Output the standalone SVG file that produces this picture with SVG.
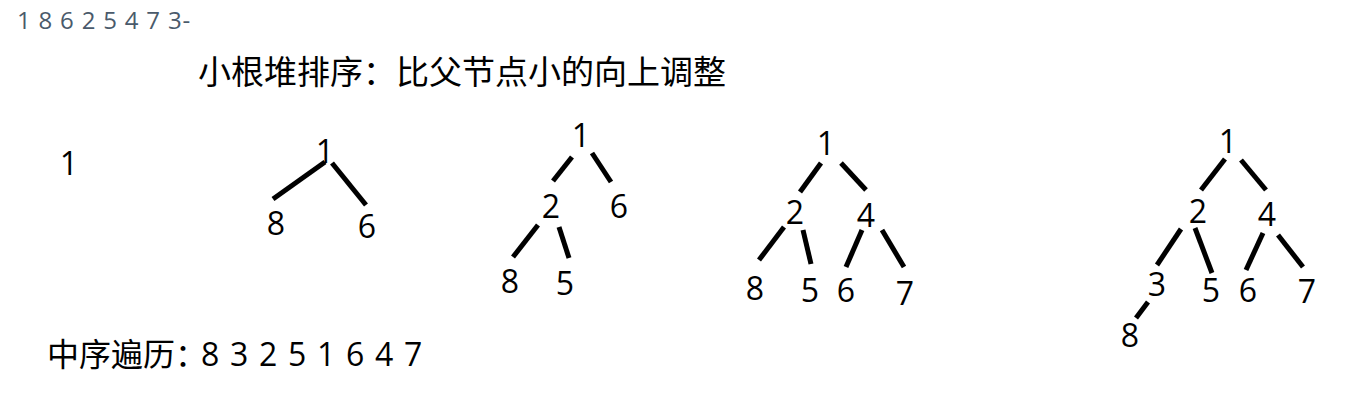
<svg xmlns="http://www.w3.org/2000/svg" width="1366" height="410" viewBox="0 0 1366 410">
<style>
.t{font-family:"Open Sans","Noto Sans CJK SC",sans-serif;fill:#000}
.cjk{font-family:"Noto Sans CJK SC","Noto Sans",sans-serif;fill:#000}
.n{font-family:"Open Sans","Noto Sans",sans-serif;font-size:32px;fill:#000;text-anchor:middle}
.e{stroke:#000;stroke-width:5;stroke-linecap:butt;fill:none}
</style>
<rect width="1366" height="410" fill="#fff"/>
<text id="seq" x="17" y="29" style="font-family:'Open Sans','Noto Sans',sans-serif;font-size:24px;fill:#4a5a6b;letter-spacing:0.8px">1 8 6 2 5 4 7 3-</text>
<text id="title" class="cjk" x="198" y="84" font-size="33">小根堆排序：比父节点小的向上调整</text>
<text id="inorder" class="cjk" x="47" y="366" font-size="32">中序遍历：<tspan x="201" style="font-family:'Open Sans','Noto Sans',sans-serif;letter-spacing:1.2px">8 3 2 5 1 6 4 7</tspan></text>

<g id="connectors">
  <!-- tree 2 -->
  <line class="e" x1="325" y1="162" x2="273" y2="199"/>
  <line class="e" x1="332" y1="163" x2="366" y2="205"/>
  <!-- tree 3 -->
  <line class="e" x1="572" y1="157" x2="553" y2="181"/>
  <line class="e" x1="592" y1="153" x2="611" y2="182"/>
  <line class="e" x1="538" y1="225" x2="513" y2="257"/>
  <line class="e" x1="559" y1="227" x2="569" y2="258"/>
  <!-- tree 4 -->
  <line class="e" x1="821" y1="163" x2="800" y2="192"/>
  <line class="e" x1="841" y1="163" x2="866" y2="190"/>
  <line class="e" x1="784" y1="227" x2="759" y2="260"/>
  <line class="e" x1="803" y1="230" x2="811" y2="264"/>
  <line class="e" x1="862" y1="230" x2="846" y2="267"/>
  <line class="e" x1="882" y1="230" x2="904" y2="267"/>
  <!-- tree 5 -->
  <line class="e" x1="1225" y1="159" x2="1201" y2="190"/>
  <line class="e" x1="1241" y1="160" x2="1266" y2="190"/>
  <line class="e" x1="1181" y1="229" x2="1157" y2="265"/>
  <line class="e" x1="1195" y1="228" x2="1212" y2="273"/>
  <line class="e" x1="1263" y1="233" x2="1246" y2="270"/>
  <line class="e" x1="1278" y1="235" x2="1303" y2="267"/>
  <line class="e" x1="1148" y1="302" x2="1136" y2="318"/>
</g>

<g id="tree1"><text class="n" x="69" y="175">1</text></g>

<g id="tree2">
  <text class="n" x="325" y="163">1</text>
  <text class="n" x="276" y="235">8</text>
  <text class="n" x="367" y="238">6</text>
</g>

<g id="tree3">
  <text class="n" x="581" y="147">1</text>
  <text class="n" x="551" y="218">2</text>
  <text class="n" x="619" y="218">6</text>
  <text class="n" x="510" y="293">8</text>
  <text class="n" x="565" y="295">5</text>
</g>

<g id="tree4">
  <text class="n" x="826" y="155">1</text>
  <text class="n" x="795" y="224">2</text>
  <text class="n" x="866" y="227">4</text>
  <text class="n" x="755" y="300">8</text>
  <text class="n" x="810" y="302">5</text>
  <text class="n" x="846" y="302">6</text>
  <text class="n" x="905" y="305">7</text>
</g>

<g id="tree5">
  <text class="n" x="1228" y="153">1</text>
  <text class="n" x="1198" y="223">2</text>
  <text class="n" x="1267" y="226">4</text>
  <text class="n" x="1157" y="296">3</text>
  <text class="n" x="1211" y="302">5</text>
  <text class="n" x="1248" y="302">6</text>
  <text class="n" x="1307" y="303">7</text>
  <text class="n" x="1130" y="347">8</text>
</g>
</svg>
